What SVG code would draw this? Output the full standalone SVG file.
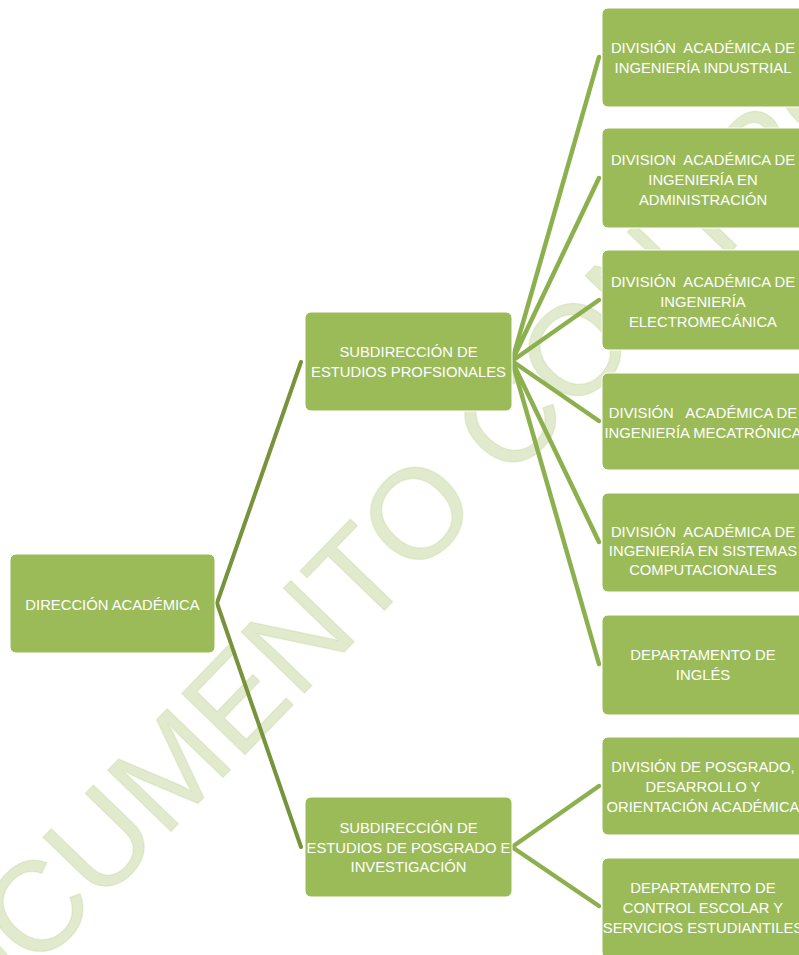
<svg xmlns="http://www.w3.org/2000/svg" width="799" height="955" viewBox="0 0 799 955">
<style>
.box{fill:#9bbb59;stroke:#ffffff;stroke-width:1}
.lbl{font-family:"Liberation Sans",Arial,sans-serif;font-size:14.8px;fill:#ffffff;text-anchor:middle}
.wm{font-family:"Liberation Sans",Arial,sans-serif;font-size:128px;fill:#9bbb59;fill-opacity:0.3;stroke:#9bbb59;stroke-opacity:0.15;stroke-width:1.5}
.root{stroke:#77933c;stroke-width:4;fill:none;stroke-linecap:round}
.sub{stroke:#8db04f;stroke-width:4.5;fill:none;stroke-linecap:round}
</style>
<rect width="799" height="955" fill="#ffffff"/>
<g id="watermark">
<text class="wm" transform="translate(-98,1110) rotate(-46)">DOCUMENTO CONTROLADO</text>
</g>
<g id="connectors">
<line class="root" x1="217" y1="603" x2="301" y2="362"/>
<line class="root" x1="217" y1="603" x2="301" y2="847"/>
<line class="sub" x1="512" y1="361" x2="599" y2="57"/>
<line class="sub" x1="512" y1="361" x2="599" y2="178"/>
<line class="sub" x1="512" y1="361" x2="599" y2="300"/>
<line class="sub" x1="512" y1="361" x2="599" y2="421"/>
<line class="sub" x1="512" y1="361" x2="599" y2="542"/>
<line class="sub" x1="512" y1="361" x2="599" y2="664"/>
<line class="sub" x1="512" y1="847" x2="599" y2="786"/>
<line class="sub" x1="512" y1="847" x2="599" y2="906"/>
</g>
<g id="n-direccion">
<rect class="box" x="10" y="554" width="205" height="99" rx="6"/>
<text class="lbl" x="112.5" y="610">DIRECCIÓN ACADÉMICA</text>
</g>
<g id="n-sub-profesionales">
<rect class="box" x="305" y="312" width="207" height="99" rx="6"/>
<text class="lbl" x="408.5" y="357">SUBDIRECCIÓN DE</text>
<text class="lbl" x="408.5" y="377">ESTUDIOS PROFSIONALES</text>
</g>
<g id="n-sub-posgrado">
<rect class="box" x="305" y="797" width="207" height="100" rx="6"/>
<text class="lbl" x="408.5" y="833">SUBDIRECCIÓN DE</text>
<text class="lbl" x="408.5" y="853">ESTUDIOS DE POSGRADO E</text>
<text class="lbl" x="408.5" y="872">INVESTIGACIÓN</text>
</g>
<g id="n-industrial">
<rect class="box" x="602" y="8" width="207" height="99" rx="6"/>
<text class="lbl" x="703" y="53" xml:space="preserve">DIVISIÓN  ACADÉMICA DE</text>
<text class="lbl" x="703" y="73">INGENIERÍA INDUSTRIAL</text>
</g>
<g id="n-administracion">
<rect class="box" x="602" y="128" width="207" height="100" rx="6"/>
<text class="lbl" x="703" y="165" xml:space="preserve">DIVISION  ACADÉMICA DE</text>
<text class="lbl" x="703" y="185">INGENIERÍA EN</text>
<text class="lbl" x="703" y="205">ADMINISTRACIÓN</text>
</g>
<g id="n-electromecanica">
<rect class="box" x="602" y="250" width="207" height="100" rx="6"/>
<text class="lbl" x="703" y="287" xml:space="preserve">DIVISIÓN  ACADÉMICA DE</text>
<text class="lbl" x="703" y="307">INGENIERÍA</text>
<text class="lbl" x="703" y="327">ELECTROMECÁNICA</text>
</g>
<g id="n-mecatronica">
<rect class="box" x="602" y="373" width="207" height="97" rx="6"/>
<text class="lbl" x="703" y="418" xml:space="preserve">DIVISIÓN   ACADÉMICA DE</text>
<text class="lbl" x="703" y="438">INGENIERÍA MECATRÓNICA</text>
</g>
<g id="n-sistemas">
<rect class="box" x="602" y="493" width="207" height="99" rx="6"/>
<text class="lbl" x="703" y="537" xml:space="preserve">DIVISIÓN  ACADÉMICA DE</text>
<text class="lbl" x="703" y="556">INGENIERÍA EN SISTEMAS</text>
<text class="lbl" x="703" y="575">COMPUTACIONALES</text>
</g>
<g id="n-ingles">
<rect class="box" x="602" y="615" width="207" height="100" rx="6"/>
<text class="lbl" x="703" y="660">DEPARTAMENTO DE</text>
<text class="lbl" x="703" y="680">INGLÉS</text>
</g>
<g id="n-posgrado">
<rect class="box" x="602" y="737" width="207" height="98" rx="6"/>
<text class="lbl" x="703" y="772">DIVISIÓN DE POSGRADO,</text>
<text class="lbl" x="703" y="792">DESARROLLO Y</text>
<text class="lbl" x="703" y="812">ORIENTACIÓN ACADÉMICA</text>
</g>
<g id="n-control-escolar">
<rect class="box" x="602" y="858" width="207" height="100" rx="6"/>
<text class="lbl" x="703" y="893">DEPARTAMENTO DE</text>
<text class="lbl" x="703" y="913">CONTROL ESCOLAR Y</text>
<text class="lbl" x="703" y="933">SERVICIOS ESTUDIANTILES</text>
</g>
</svg>
